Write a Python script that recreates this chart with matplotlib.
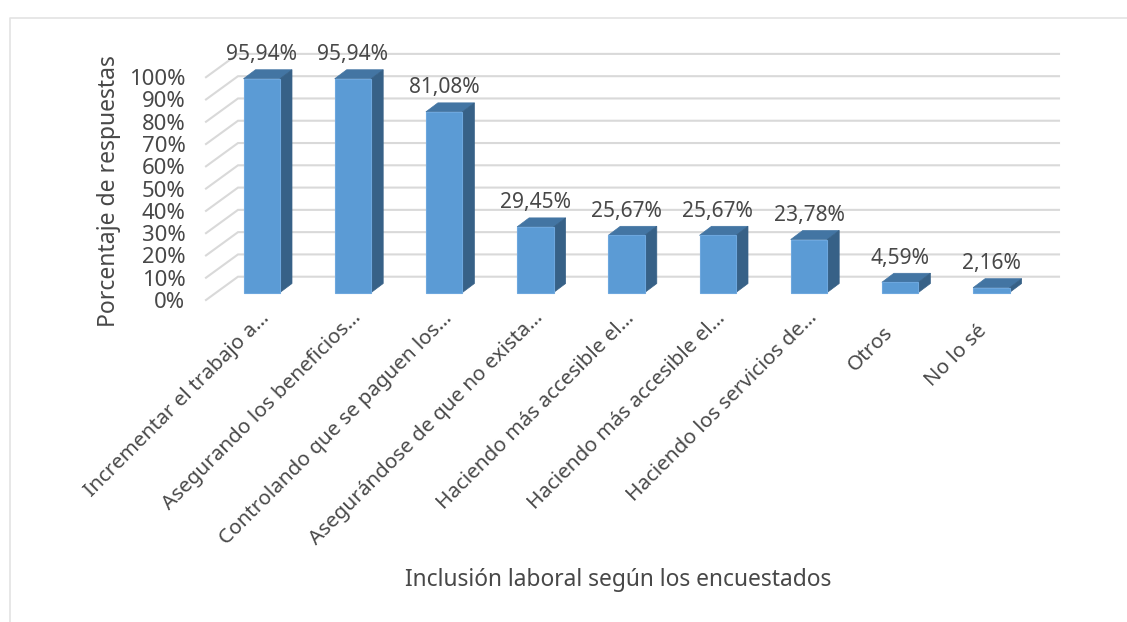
import matplotlib
matplotlib.use("Agg")
import matplotlib.pyplot as plt
from matplotlib.patches import Polygon
from matplotlib.transforms import ScaledTranslation

W, H = 1127, 622
categories = ["Incrementar el trabajo a…", "Asegurando los beneficios…", "Controlando que se paguen los…",
              "Asegurándose de que no exista…", "Haciendo más accesible el…", "Haciendo más accesible el…",
              "Haciendo los servicios de…", "Otros", "No lo sé"]
values = [95.94, 95.94, 81.08, 29.45, 25.67, 25.67, 23.78, 4.59, 2.16]
value_labels = ["95,94%", "95,94%", "81,08%", "29,45%", "25,67%", "25,67%", "23,78%", "4,59%", "2,16%"]
y_ticks = list(range(0, 101, 10))
y_tick_labels = [f"{v}%" for v in y_ticks]
label_back = [0, 0, 0, 0, 0, 0, 0, 15, 13]  # px the rotated label sits back along its diagonal

plt.rcParams['font.family'] = ['Noto Sans', 'DejaVu Sans']
TXT = '#484848'
GRID = '#D9D9D9'
FRONT = '#5B9BD5'
TOP = '#4375A3'
SIDE = '#376187'

fig = plt.figure(figsize=(W/100, H/100), dpi=100)
L, R, T, B = 206, 1059, 53.3, 300
ax = fig.add_axes([L/W, 1-B/H, (R-L)/W, (B-T)/H])
px_y = 2.228      # pixels per percent
px_x = 91.2       # pixels per category
ax.set_xlim((L-261.75)/px_x, (R-261.75)/px_x)
ax.set_ylim(0, (B-T)/px_y)
ax.patch.set_alpha(0)
for s in ax.spines.values():
    s.set_visible(False)

# walls
wdx, wdy = 32/px_x, 23.3/px_y
x0, x1 = ax.get_xlim()
for v in y_ticks:
    ax.plot([x0, x0+wdx, x1], [v, v+wdy, v+wdy], color=GRID, lw=1.5, zorder=1, clip_on=False,
            solid_joinstyle='miter')

# bars
base = 7.5/px_y
hw = 18.25/px_x
dx, dy = 12/px_x, 9/px_y
xs = list(range(len(values)))
ax.bar(xs, values, width=2*hw, bottom=base, color=FRONT, edgecolor='#6DA7DE', linewidth=0.8, zorder=3)
for x, v, lab in zip(xs, values, value_labels):
    t = base + v
    ax.add_patch(Polygon([(x-hw, t), (x+hw, t), (x+hw+dx, t+dy), (x-hw+dx, t+dy)], closed=True, fc=TOP, ec=TOP, lw=0.5, zorder=2.5))
    ax.add_patch(Polygon([(x+hw, base), (x+hw+dx, base+dy), (x+hw+dx, t+dy), (x+hw, t)], closed=True, fc=SIDE, ec=SIDE, lw=0.5, zorder=2.5))
    ax.text(x, t + 24/px_y, lab, ha='center', va='center', fontsize=15.1, color=TXT, zorder=5, clip_on=False)

ax.set_yticks(y_ticks, y_tick_labels, fontsize=15.9, color=TXT)
ax.tick_params(axis='y', length=0, pad=14.8)
ax.set_xticks(xs, categories, fontsize=14.9, color=TXT, rotation=45, ha='right', rotation_mode='anchor')
ax.tick_params(axis='x', length=0, pad=0)
for lab, back in zip(ax.get_xticklabels(), label_back):
    off = ScaledTranslation((-2 - back)/100, (-8 - back)/100, fig.dpi_scale_trans)
    lab.set_transform(lab.get_transform() + off)

ax.set_xlabel("Inclusión laboral según los encuestados", fontsize=16.4, color=TXT)
ax.xaxis.set_label_coords((618-L)/(R-L), -(580-B)/(B-T), transform=ax.transAxes)
ax.xaxis.label.set_va('center')
ax.set_ylabel("Porcentaje de respuestas", fontsize=16.5, color=TXT)
ax.yaxis.set_label_coords((109-L)/(R-L), (B-191)/(B-T), transform=ax.transAxes)
ax.yaxis.label.set_va('center')

# outer frame
fig.add_artist(plt.Line2D([9.5/W, 9.5/W, 1127/W], [0, 1-17.5/H, 1-17.5/H], color='#E3E3E3', lw=1.2))

fig.savefig('out.png', dpi=100)
